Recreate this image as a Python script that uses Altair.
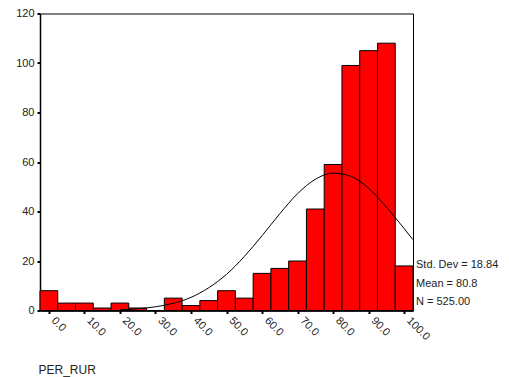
import altair as alt
import pandas as pd

# Histogram bins (centers) and counts
bin_centers = [0, 5, 10, 15, 20, 25, 30, 35, 40, 45, 50, 55, 60, 65, 70, 75, 80, 85, 90, 95, 100]
counts = [8, 3, 3, 1, 3, 1, 0, 5, 2, 4, 8, 5, 15, 17, 20, 41, 59, 99, 105, 108, 18]
bin_width = 5

# Fitted normal curve
curve_x = [20, 25, 30, 35, 40, 45, 50, 55, 60, 65, 70, 75, 80, 85, 90, 95, 100, 102.5]
curve_y = [0.3, 0.7, 1.5, 2.9, 5.3, 9.2, 14.6, 21.8, 30.2, 39.1, 47.2, 53.0, 55.5, 54.2, 49.4, 41.8, 33.1, 28.6]

stats_lines = ["Std. Dev = 18.84", "Mean = 80.8", "N = 525.00"]
x_ticks = [0, 10, 20, 30, 40, 50, 60, 70, 80, 90, 100]
y_ticks = [0, 20, 40, 60, 80, 100, 120]

W, H = 373, 297
FONT = "Liberation Sans"

bars = pd.DataFrame({
    "start": [c - bin_width / 2 for c in bin_centers],
    "end": [c + bin_width / 2 for c in bin_centers],
    "count": counts,
})
curve = pd.DataFrame({"start": curve_x, "count": curve_y})

xscale = alt.Scale(domain=[-2.5, 102.5], nice=False, zero=False)
yscale = alt.Scale(domain=[0, 120], nice=False)

xaxis = alt.Axis(
    values=x_ticks, format=".1f", labelAngle=45, labelAlign="left", labelBaseline="top",
    labelFont=FONT, labelFontSize=11, labelColor="#222", labelPadding=1, labelOverlap=False,
    labelOffset=8, labelBound=False, labelSeparation=0,
    tickSize=3, tickWidth=2, tickColor="black", domainColor="black", domainWidth=1.5,
    grid=False, title="PER_RUR", titleFont=FONT, titleFontSize=12, titleFontWeight="normal",
    titleColor="#222", titleAnchor="start", titleAlign="left", titleBaseline="alphabetic",
    titleX=-2, titleY=63,
)
yaxis = alt.Axis(
    values=y_ticks, labelFont=FONT, labelFontSize=11, labelColor="#222", labelPadding=3,
    tickSize=3, tickWidth=2, tickColor="black", domainColor="black", domainWidth=1.5,
    grid=False, title=None,
)

bar_layer = alt.Chart(bars).mark_rect(fill="#FF0000", stroke="black", strokeWidth=1).encode(
    x=alt.X("start:Q", scale=xscale, axis=xaxis),
    x2="end:Q",
    y=alt.Y("count:Q", scale=yscale, axis=yaxis),
    y2=alt.datum(0),
)

line_layer = alt.Chart(curve).mark_line(color="black", strokeWidth=1, interpolate="monotone", clip=True).encode(
    x=alt.X("start:Q", scale=xscale, axis=xaxis),
    y=alt.Y("count:Q", scale=yscale, axis=yaxis),
)

text_y = [251.5, 270, 288.5]
text_layers = [
    alt.Chart(pd.DataFrame({"label": [s]})).mark_text(
        align="left", baseline="middle", font=FONT, fontSize=11, color="#222"
    ).encode(x=alt.value(W + 3), y=alt.value(ty), text="label:N")
    for s, ty in zip(stats_lines, text_y)
]

chart = alt.layer(bar_layer, line_layer, *text_layers).properties(
    width=W, height=H,
    autosize=alt.AutoSizeParams(type="none"),
    padding={"left": 32, "top": 5.5, "right": 88, "bottom": 72},
    background="white",
).configure_view(stroke="black", strokeWidth=1).configure_axis(labelOverlap=False)

chart.save("out.html", embed_options={"renderer": "svg", "actions": False})
